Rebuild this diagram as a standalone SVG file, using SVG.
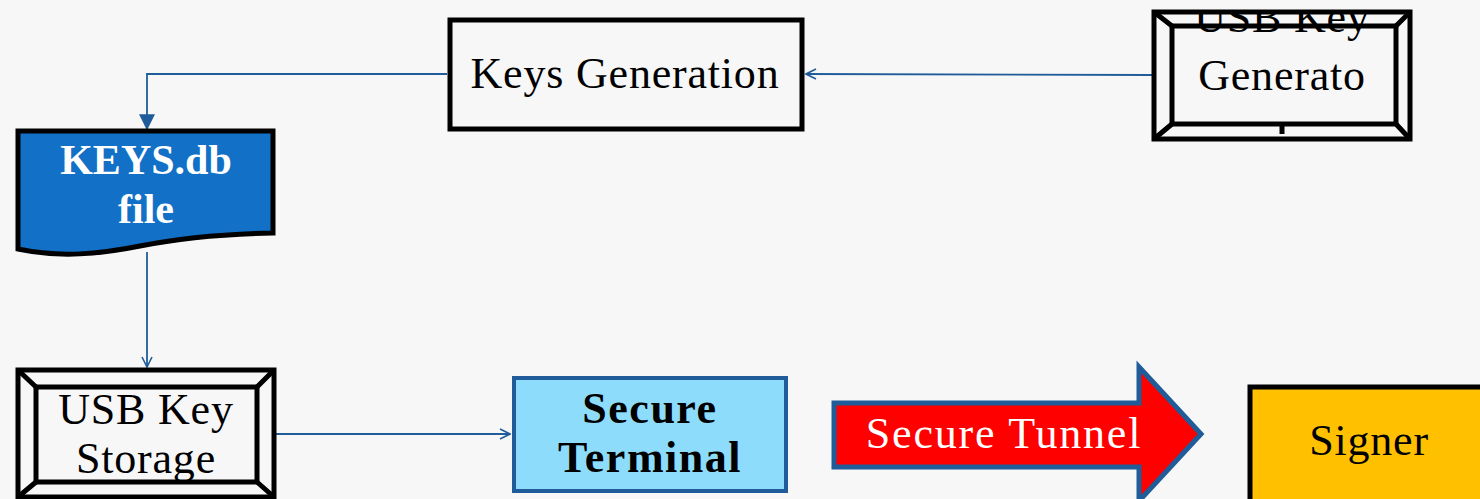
<svg xmlns="http://www.w3.org/2000/svg" width="1480" height="499" viewBox="0 0 1480 499">
<defs>
<marker id="open" viewBox="0 0 12 12" refX="11" refY="6" markerWidth="12" markerHeight="12" markerUnits="userSpaceOnUse" orient="auto">
<path d="M1,1 L11,6 L1,11" fill="none" stroke="#1f5c99" stroke-width="1.6"/>
</marker>
<marker id="filled" viewBox="0 0 12 12" refX="11" refY="6" markerWidth="16" markerHeight="16" markerUnits="userSpaceOnUse" orient="auto">
<path d="M0,0 L12,6 L0,12 Z" fill="#1f5c99"/>
</marker>
<clipPath id="genclip"><rect x="1150" y="10" width="264" height="130"/></clipPath>
</defs>
<style>
.t{font-family:"Liberation Serif","Times New Roman",serif;font-size:44px;letter-spacing:0.8px;text-anchor:middle;fill:#000}
.b{font-weight:bold;letter-spacing:1.5px}
.k{font-size:42px;letter-spacing:0}
.w{fill:#fff}
.frame{fill:none;stroke:#000;stroke-width:5}
.conn{fill:none;stroke:#1f5c99;stroke-width:1.8}
</style>
<rect width="1480" height="499" fill="#f7f7f7"/>
<g id="connectors">
<path class="conn" d="M1152,75 L806,74" marker-end="url(#open)"/>
<path class="conn" d="M447,74 L147,74 L147,129" marker-end="url(#filled)"/>
<path class="conn" d="M147,252 L147,367" marker-end="url(#open)"/>
<path class="conn" d="M275,434 L510,434" marker-end="url(#open)"/>
</g>
<g id="keys-generation">
<rect x="450" y="20" width="352" height="109" fill="none" stroke="#000" stroke-width="5"/>
<text class="t" x="625" y="88">Keys Generation</text>
</g>
<g id="usb-key-generator">
<g clip-path="url(#genclip)">
<text class="t" x="1282" y="32">USB Key</text>
</g>
<text class="t" x="1282" y="90">Generato</text>
<rect class="frame" x="1154" y="12" width="256" height="127"/>
<rect class="frame" x="1172" y="26" width="224" height="98"/>
<path class="frame" d="M1154,12 L1172,26 M1410,12 L1396,26 M1154,139 L1172,124 M1410,139 L1396,124 M1282,124 L1282,134"/>
</g>
<g id="keys-db-file">
<path d="M18,131 L273,131 L273,233 C220,234 180,238 140,246 C100,254 60,258 18,249 Z" fill="#1270c6" stroke="#000" stroke-width="5"/>
<text class="t b w k" x="146" y="174">KEYS.db</text>
<text class="t b w k" x="146" y="223">file</text>
</g>
<g id="usb-key-storage">
<rect class="frame" x="18" y="370" width="256" height="127"/>
<rect class="frame" x="36" y="387" width="221" height="95"/>
<path class="frame" d="M18,370 L36,387 M274,370 L257,387 M18,497 L36,482 M274,497 L257,482"/>
<text class="t" x="146" y="424">USB Key</text>
<text class="t" x="146" y="473">Storage</text>
</g>
<g id="secure-terminal">
<rect x="514" y="378" width="272" height="113" fill="#8ddcfc" stroke="#1f5c99" stroke-width="4"/>
<text class="t b" x="650" y="423">Secure</text>
<text class="t b" x="650" y="472">Terminal</text>
</g>
<g id="secure-tunnel">
<path d="M834,403 L1139,403 L1139,367 L1201,434 L1139,501 L1139,467 L834,467 Z" fill="#ff0000" stroke="#1f5c99" stroke-width="5"/>
<text class="t w" x="1004" y="448" style="letter-spacing:1.8px">Secure Tunnel</text>
</g>
<g id="signer">
<rect x="1250" y="387" width="240" height="120" fill="#ffc000" stroke="#000" stroke-width="5"/>
<text class="t" x="1369" y="455">Signer</text>
</g>
</svg>
